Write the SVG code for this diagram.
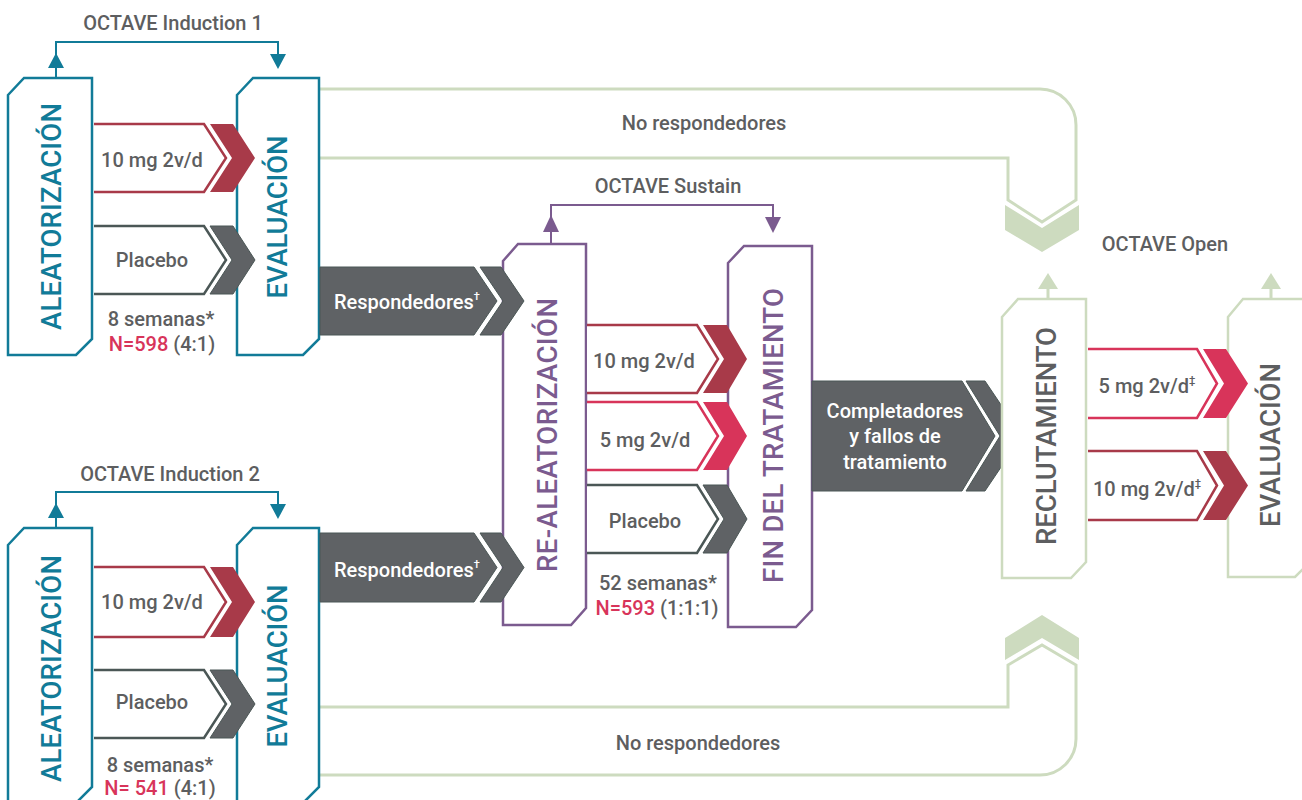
<svg xmlns="http://www.w3.org/2000/svg" width="1302" height="800" viewBox="0 0 1302 800">
<defs>
<style>
.t{font-family:Roboto,'Liberation Sans',sans-serif;font-weight:500;font-size:20px;fill:#5d5e60}
.c{text-anchor:middle}
.wt{fill:#ffffff}
.n{fill:#d8345a}
.v{font-family:Roboto,'Liberation Sans',sans-serif;font-weight:500;font-size:27.5px;text-anchor:middle}
.bt{fill:#ffffff;stroke:#117b98;stroke-width:2.5}
.bp{fill:#ffffff;stroke:#7b5b8f;stroke-width:2.5}
.bg{fill:#ffffff;stroke:#cddbbf;stroke-width:2.5}
.ot{fill:#ffffff;stroke-width:2.5}
.dr{stroke:#a83a49}
.pr{stroke:#d8345a}
.gr{stroke:#4b5756}
.fdr{fill:#a83a49}
.fpr{fill:#d8345a}
.fgr{fill:#5f6265;stroke:#4b5756;stroke-width:1}
.lt{fill:none;stroke:#117b98;stroke-width:2}
.lp{fill:none;stroke:#7b5b8f;stroke-width:2}
.lg{fill:none;stroke:#cddbbf;stroke-width:3}
</style>
</defs>
<rect width="1302" height="800" fill="#ffffff"/>

<g id="connectors">
  <!-- Induction 1 bracket -->
  <path class="lt" d="M56,78 V42 H278 V54"/>
  <polygon points="56,53 48,68 64,68" fill="#117b98"/>
  <polygon points="270,54 286,54 278,69" fill="#117b98"/>
  <text class="t c" x="173" y="30">OCTAVE Induction 1</text>
  <!-- Induction 2 bracket -->
  <path class="lt" d="M56,528 V492 H278 V504"/>
  <polygon points="56,503 48,518 64,518" fill="#117b98"/>
  <polygon points="270,504 286,504 278,519" fill="#117b98"/>
  <text class="t c" x="170" y="481">OCTAVE Induction 2</text>
  <!-- Sustain bracket -->
  <path class="lp" d="M551,244 V205 H773 V218"/>
  <polygon points="551,215 543,232 559,232" fill="#7b5b8f"/>
  <polygon points="765,217 781,217 773,233" fill="#7b5b8f"/>
  <text class="t c" x="668" y="193">OCTAVE Sustain</text>
  <!-- Open arrows -->
  <path class="lg" d="M1048,299 V286"/>
  <polygon points="1048,273 1038,289 1058,289" fill="#cddbbf"/>
  <path class="lg" d="M1271,299 V286"/>
  <polygon points="1271,273 1261,289 1281,289" fill="#cddbbf"/>
  <text class="t c" x="1165" y="251">OCTAVE Open</text>
  <!-- Top non-responders -->
  <path class="lg" d="M319,89 H1040 A36,36 0 0 1 1076,125 V200 L1042,222 L1008,200 V158 H319"/>
  <polygon points="1005,205 1042,228 1079,205 1079,230 1042,252 1005,230" fill="#cddbbf"/>
  <text class="t c" x="704" y="130">No respondedores</text>
  <!-- Bottom non-responders -->
  <path class="lg" d="M319,707 H1008 V665 L1042,645 L1076,665 V739 A36,36 0 0 1 1040,775 H319"/>
  <polygon points="1005,638 1042,615 1079,638 1079,660 1042,638 1005,660" fill="#cddbbf"/>
  <text class="t c" x="698" y="750">No respondedores</text>
</g>

<!-- Induction 1 -->
<g id="aleatorizacion1">
  <path class="bt" d="M8,95 L24,78 H92 V339 L76,355 H8 Z"/>
  <text class="v" fill="#117b98" transform="translate(61,216.5) rotate(-90)" textLength="227">ALEATORIZACIÓN</text>
</g>
<g id="evaluacion1">
  <path class="bt" d="M237,95 L253,78 H319 V339 L303,355 H237 Z"/>
  <text class="v" fill="#117b98" transform="translate(287,217) rotate(-90)" textLength="163">EVALUACIÓN</text>
</g>
<g id="ind1-10mg">
  <path class="ot dr" d="M94,124 H204 L226,158 L204,192 H94"/>
  <polygon class="fdr" points="210,124 233,124 255,158 233,192 210,192 232,158"/>
  <text class="t c" x="152" y="167">10 mg 2v/d</text>
</g>
<g id="ind1-placebo">
  <path class="ot gr" d="M94,226 H204 L226,260 L204,294 H94"/>
  <polygon class="fgr" points="210,226 233,226 255,260 233,294 210,294 232,260"/>
  <text class="t c" x="152" y="267">Placebo</text>
</g>
<g id="ind1-info">
  <text class="t c" x="161" y="326">8 semanas*</text>
  <text class="t c" x="162" y="351"><tspan class="n">N=598</tspan> (4:1)</text>
</g>

<!-- Induction 2 -->
<g id="aleatorizacion2">
  <path class="bt" d="M8,545 L24,528 H92 V787 L76,803 H8 Z"/>
  <text class="v" fill="#117b98" transform="translate(61,668.5) rotate(-90)" textLength="227">ALEATORIZACIÓN</text>
</g>
<g id="evaluacion2">
  <path class="bt" d="M237,545 L253,528 H319 V787 L303,803 H237 Z"/>
  <text class="v" fill="#117b98" transform="translate(287,666) rotate(-90)" textLength="163">EVALUACIÓN</text>
</g>
<g id="ind2-10mg">
  <path class="ot dr" d="M94,567 H204 L226,602 L204,637 H94"/>
  <polygon class="fdr" points="210,567 233,567 255,602 233,637 210,637 232,602"/>
  <text class="t c" x="152" y="609">10 mg 2v/d</text>
</g>
<g id="ind2-placebo">
  <path class="ot gr" d="M94,670 H204 L226,704 L204,738 H94"/>
  <polygon class="fgr" points="210,670 233,670 255,704 233,738 210,738 232,704"/>
  <text class="t c" x="152" y="709">Placebo</text>
</g>
<g id="ind2-info">
  <text class="t c" x="160" y="772">8 semanas*</text>
  <text class="t c" x="160" y="795"><tspan class="n">N= 541</tspan> (4:1)</text>
</g>

<!-- Sustain -->
<g id="realeatorizacion">
  <path class="bp" d="M503,261 L518,244 H586 V608 L571,625 H503 Z"/>
  <text class="v" fill="#7b5b8f" transform="translate(557,435) rotate(-90)" textLength="274">RE-ALEATORIZACIÓN</text>
</g>
<g id="fin-tratamiento">
  <path class="bp" d="M728,263 L744,246 H812 V610 L796,627 H728 Z"/>
  <text class="v" fill="#7b5b8f" transform="translate(783,435.5) rotate(-90)" textLength="295">FIN DEL TRATAMIENTO</text>
</g>
<g id="respondedores1">
  <polygon class="fgr" points="320,267 474,267 497,301 474,335 320,335"/>
  <polygon class="fgr" points="480,267 501,267 524,301 501,335 480,335 503,301"/>
  <text class="t wt" x="334" y="309">Respondedores<tspan font-size="11" dy="-9">†</tspan></text>
</g>
<g id="respondedores2">
  <polygon class="fgr" points="320,533 474,533 497,567.5 474,602 320,602"/>
  <polygon class="fgr" points="480,533 501,533 524,567.5 501,602 480,602 503,567.5"/>
  <text class="t wt" x="334" y="577">Respondedores<tspan font-size="11" dy="-9">†</tspan></text>
</g>
<g id="sus-10mg">
  <path class="ot dr" d="M587,325 H697 L718,359 L697,393 H587"/>
  <polygon class="fdr" points="703,325 727,325 747,359 727,393 703,393 724,359"/>
  <text class="t c" x="644" y="368">10 mg 2v/d</text>
</g>
<g id="sus-5mg">
  <path class="ot pr" d="M587,402 H697 L718,436 L697,470 H587"/>
  <polygon class="fpr" points="703,402 727,402 747,436 727,470 703,470 724,436"/>
  <text class="t c" x="645" y="447">5 mg 2v/d</text>
</g>
<g id="sus-placebo">
  <path class="ot gr" d="M587,485 H697 L718,519 L697,553 H587"/>
  <polygon class="fgr" points="703,485 727,485 747,519 727,553 703,553 724,519"/>
  <text class="t c" x="645" y="528">Placebo</text>
</g>
<g id="sus-info">
  <text class="t c" x="658" y="590">52 semanas*</text>
  <text class="t c" x="657" y="615"><tspan class="n">N=593</tspan> (1:1:1)</text>
</g>

<!-- Open -->
<g id="completadores">
  <polygon class="fgr" points="812,381 962,381 995,436 962,491 812,491"/>
  <polygon class="fgr" points="966,381 985,381 1022,436 985,491 966,491 1000,436"/>
  <text class="t c wt" x="895" y="418">Completadores</text>
  <text class="t c wt" x="895" y="443">y fallos de</text>
  <text class="t c wt" x="895" y="469">tratamiento</text>
</g>
<g id="reclutamiento">
  <path class="bg" d="M1002,317 L1018,299 H1086 V562 L1071,578 H1002 Z"/>
  <text class="v" fill="#5d5e60" transform="translate(1056,436) rotate(-90)" textLength="218">RECLUTAMIENTO</text>
</g>
<g id="evaluacion3">
  <path class="bg" d="M1228,317 L1243,299 H1311 V561 L1295,577 H1228 Z"/>
  <text class="v" fill="#5d5e60" transform="translate(1280,445) rotate(-90)" textLength="164">EVALUACIÓN</text>
</g>
<g id="open-5mg">
  <path class="ot pr" d="M1088,349 H1197 L1217,383.5 L1197,418 H1088"/>
  <polygon class="fpr" points="1203,349 1226,349 1248,383.5 1226,418 1203,418 1224,383.5"/>
  <text class="t c" x="1147" y="393">5 mg 2v/d<tspan font-size="11" dy="-9">‡</tspan></text>
</g>
<g id="open-10mg">
  <path class="ot dr" d="M1088,451 H1197 L1217,485.5 L1197,520 H1088"/>
  <polygon class="fdr" points="1203,451 1226,451 1248,485.5 1226,520 1203,520 1224,485.5"/>
  <text class="t c" x="1147" y="496">10 mg 2v/d<tspan font-size="11" dy="-9">‡</tspan></text>
</g>
</svg>
